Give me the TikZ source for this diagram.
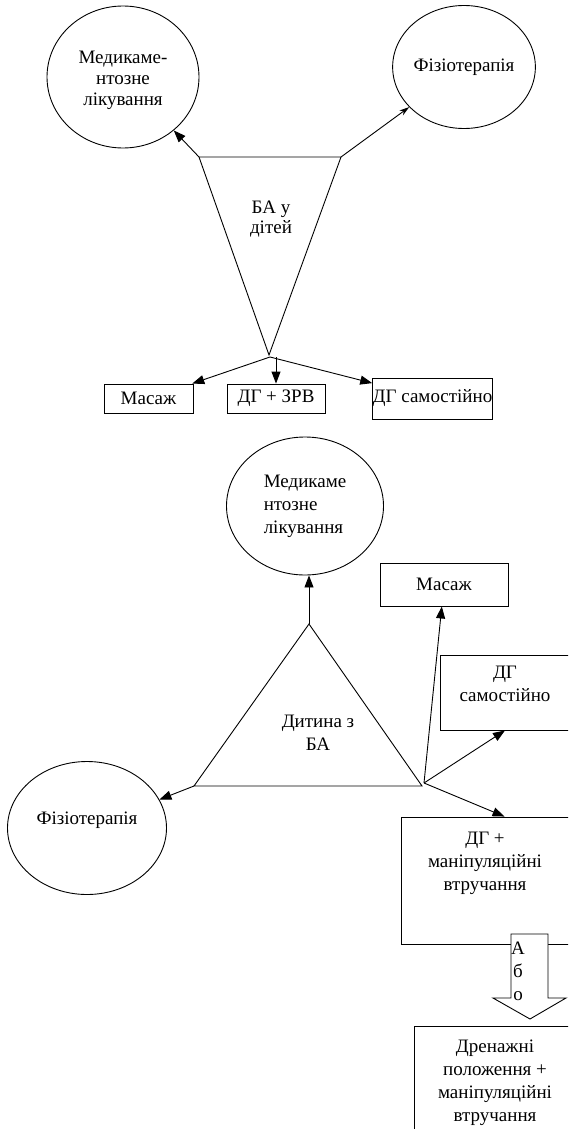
\documentclass[tikz,border=0pt]{standalone}
\usepackage{fontspec}
\setmainfont{Liberation Serif}
\usetikzlibrary{arrows.meta, positioning, shapes.geometric}
\tikzset{
  circ/.style={draw, ellipse, inner sep=0pt, align=center},
  box/.style={draw, rectangle, inner sep=0pt, align=center},
  txt/.style={inner sep=0pt, align=center},
  thinarrow/.style={-{Stealth[length=10pt, width=6pt]}},
}

\begin{document}
\begin{tikzpicture}[x=1pt, y=-1pt, line width=0.9pt, >={Triangle[length=12pt, width=9pt]},
    font=\rmfamily\fontsize{19}{23}\selectfont]
    \useasboundingbox (0,0) rectangle (568,1129);
    \clip (0,0) rectangle (568,1129);

    % Top scheme
    \node[circ, minimum width=152pt, minimum height=142pt, font=\fontsize{19}{21}\selectfont, text height=62pt] (med1) at (123,77) {Медикаме-\\нтозне\\лікування};
    \node[circ, minimum width=133pt, minimum height=123pt] (fiz1) at (464,67) {Фізіотерапія};
    \coordinate (t1a) at (199,157);
    \coordinate (t1b) at (341,157);
    \coordinate (t1c) at (269,355);
    \draw (t1a) -- (t1b) -- (t1c) -- cycle;
    \node[txt, font=\fontsize{19}{20}\selectfont] (ba1) at (271,219) {БА у\\дітей};
    \node[box, minimum width=89pt, minimum height=29pt] (mas1) at (148.5,398.5) {Масаж};
    \node[box, minimum width=98pt, minimum height=29pt] (dgz1) at (276,398.5) {ДГ + ЗРВ};
    \node[box, minimum width=119pt, minimum height=41pt] (dgs1) at (432.5,398.5) {ДГ самостійно};
    \coordinate (o1) at (270,357);

    \draw[->] (t1a) -- (med1);
    \draw[thinarrow] (t1b) -- (fiz1);
    \draw[->] (o1) -- (mas1);
    \draw[->] (o1 -| dgz1) -- (dgz1);
    \draw[->] (o1) -- (dgs1);

    % Bottom scheme
    \node[circ, minimum width=157pt, minimum height=138pt, align=left] (med2) at (305,506) {Медикаме\\нтозне\\лікування};
    \coordinate (t2a) at (309,624);
    \coordinate (t2b) at (194,786);
    \coordinate (t2c) at (422,786);
    \draw (t2a) -- (t2b) -- (t2c) -- cycle;
    \node[txt] (dit2) at (318,733) {Дитина з\\БА};
    \node[circ, minimum width=159pt, minimum height=133pt, text depth=20pt] (fiz2) at (87,828) {Фізіотерапія};
    \node[box, minimum width=128pt, minimum height=43pt] (mas2) at (444,584.5) {Масаж};
    \node[box, minimum width=130pt, minimum height=75pt] (dgs2) at (505,692.5) {};
    \node[txt, below=11pt of dgs2.north] (dgs2t) {ДГ\\самостійно};
    \node[box, minimum width=168pt, minimum height=127pt] (dgm) at (485,880.5) {};
    \node[txt, below=15pt of dgm.north] (dgmt) {ДГ +\\маніпуляційні\\втручання};
    \node[box, minimum width=162pt, minimum height=114pt] (dren) at (495,1083) {};
    \node[txt, below=14pt of dren.north] (drent) {Дренажні\\положення +\\маніпуляційні\\втручання};
    \coordinate (o2) at (424,783);

    \draw[->] (t2a) -- (t2a |- med2.south);
    \draw[->] (t2b) -- (fiz2);
    \draw[->] (o2) -- (mas2);
    \draw[->] (o2) -- (dgs2.south);
    \draw[->] (o2) -- (dgm.73);

    % Block arrow
    \draw[fill=white] (511,934) -- (548,934) -- (548,998) -- (566,998) -- (530,1019) -- (493,998) -- (511,998) -- cycle;
    \node[txt] (abo) at (518,971) {А\\б\\о};
\end{tikzpicture}
\end{document}
